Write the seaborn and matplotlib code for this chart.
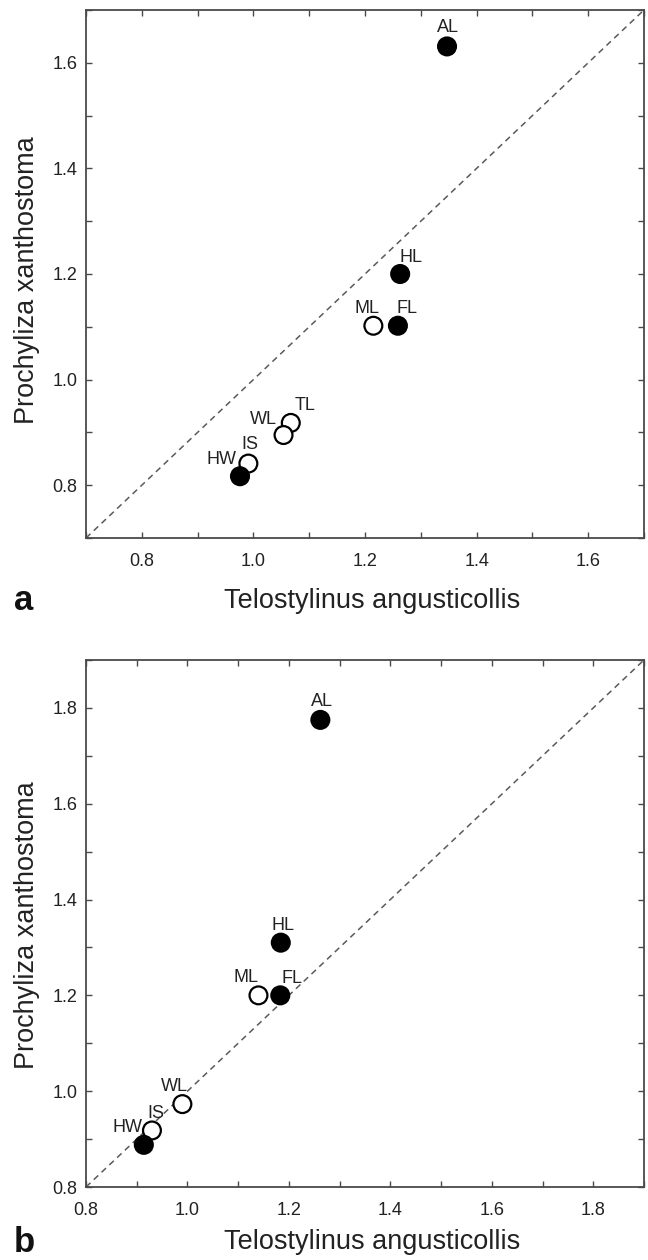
import matplotlib
matplotlib.use("Agg")
import matplotlib.pyplot as plt
import seaborn as sns
import pandas as pd
from matplotlib.ticker import MultipleLocator

sns.set_style("white")
plt.rcParams['font.family'] = ['Liberation Sans', 'DejaVu Sans']

# ---- data: panel a ----
a_traits = ["AL", "HL", "FL", "ML", "TL", "WL", "IS", "HW"]
a_x = [1.347, 1.263, 1.259, 1.215, 1.067, 1.054, 0.991, 0.976]
a_y = [1.631, 1.200, 1.102, 1.102, 0.918, 0.895, 0.841, 0.817]
a_kind = ["filled", "filled", "filled", "open", "open", "open", "open", "filled"]

# ---- data: panel b ----
b_traits = ["AL", "HL", "FL", "ML", "WL", "IS", "HW"]
b_x = [1.262, 1.184, 1.183, 1.140, 0.990, 0.930, 0.914]
b_y = [1.775, 1.310, 1.200, 1.200, 0.973, 0.918, 0.888]
b_kind = ["filled", "filled", "filled", "open", "open", "open", "filled"]

a_ticks = [0.8, 1.0, 1.2, 1.4, 1.6]
b_ticks = [0.8, 1.0, 1.2, 1.4, 1.6, 1.8]
xlabel = "Telostylinus angusticollis"
ylabel = "Prochyliza xanthostoma"

# label offsets in pixels (dx right, dy up)
a_off = {"AL": (1, 19), "HL": (11, 17), "FL": (9, 17), "ML": (-6, 17),
         "TL": (14, 17), "WL": (-20, 16), "IS": (1, 19), "HW": (-19, 17)}
b_off = {"AL": (2, 18), "HL": (2, 17), "FL": (12, 17), "ML": (-12, 18),
         "WL": (-8, 18), "IS": (4, 17), "HW": (-16, 17)}

fig = plt.figure(figsize=(6.48, 12.6), dpi=100)
W, H = 648, 1260
ax_a = fig.add_axes([86 / W, 1 - 538 / H, 558 / W, 528 / H])
ax_b = fig.add_axes([86 / W, 1 - 1187 / H, 558 / W, 527 / H])

frame_col = "#4a4a4a"
text_col = "#222222"


def draw(ax, traits, xs, ys, kinds, lim, ticks, offs):
    df = pd.DataFrame({"x": xs, "y": ys, "trait": traits, "kind": kinds})
    ax.plot(lim, lim, ls=(0, (4, 3)), color="#5a5a5a", lw=1.1, zorder=1)
    sns.scatterplot(data=df, x="x", y="y", hue="kind",
                    palette={"filled": "black", "open": "white"},
                    edgecolor="black", linewidth=1.6, s=165, legend=False,
                    ax=ax, zorder=3)
    for t, x, y in zip(traits, xs, ys):
        dx, dy = offs[t]
        ax.annotate(t, (x, y), xytext=(dx * 0.72, dy * 0.72),
                    textcoords="offset points", ha="center", va="center",
                    fontsize=13, color=text_col, zorder=4)
    ax.set_xlim(lim)
    ax.set_ylim(lim)
    ax.set_xticks(ticks)
    ax.set_yticks(ticks)
    ax.set_xticklabels([f"{t:.1f}" for t in ticks])
    ax.set_yticklabels([f"{t:.1f}" for t in ticks])
    ax.xaxis.set_minor_locator(MultipleLocator(0.1))
    ax.yaxis.set_minor_locator(MultipleLocator(0.1))
    ax.tick_params(which="both", direction="in", top=True, right=True,
                   bottom=True, left=True, length=4, width=1.0,
                   color=frame_col, labelsize=13, labelcolor=text_col)
    ax.tick_params(axis="x", pad=11)
    ax.tick_params(axis="y", pad=6)
    for sp in ax.spines.values():
        sp.set_color(frame_col)
        sp.set_linewidth(1.3)
    ax.set_xlabel(xlabel, fontsize=19.5, color=text_col)
    ax.set_ylabel(ylabel, fontsize=19.5, color=text_col)
    ax.grid(False)


draw(ax_a, a_traits, a_x, a_y, a_kind, (0.7, 1.7), a_ticks, a_off)
draw(ax_b, b_traits, b_x, b_y, b_kind, (0.8, 1.9), b_ticks, b_off)

# label positions
ax_a.xaxis.set_label_coords((372 - 86) / 558, -(601 - 538) / 528)
ax_a.xaxis.label.set_va("center")
ax_a.yaxis.set_label_coords(-(86 - 27) / 558, (538 - 280) / 528)
ax_a.yaxis.label.set_va("center")
ax_b.xaxis.set_label_coords((372 - 86) / 558, -(1242 - 1187) / 527)
ax_b.xaxis.label.set_va("center")
ax_b.yaxis.set_label_coords(-(86 - 27) / 558, (1187 - 925) / 527)
ax_b.yaxis.label.set_va("center")

fig.text(24 / W, 1 - 600 / H, "a", fontsize=25, fontweight="bold",
         ha="center", va="center", color="#111111")
fig.text(24 / W, 1 - 1242 / H, "b", fontsize=25, fontweight="bold",
         ha="center", va="center", color="#111111")

fig.savefig("out.png", dpi=100, facecolor="white")
